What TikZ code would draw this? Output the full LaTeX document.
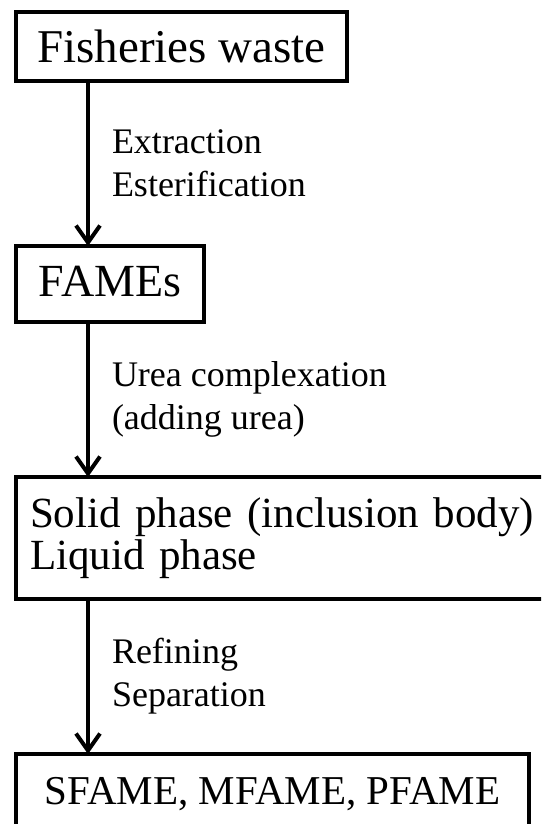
\documentclass[tikz,border=0pt]{standalone}
\usepackage{fontspec}
\setmainfont{Liberation Serif}
\usetikzlibrary{arrows.meta}
\tikzset{>={Straight Barb[length=17pt,width=24pt]}}
\tikzset{
  stage/.style={draw, line width=4pt, inner sep=0pt, outer sep=0pt, anchor=north west},
  step note/.style={font=\fontsize{36}{43}\selectfont, align=left, anchor=west,
                    inner sep=0pt, xshift=22pt},
  flow/.style={line width=4pt, ->}
}

\begin{document}
\begin{tikzpicture}[x=1pt,y=-1pt]
  \useasboundingbox (0,0) rectangle (541,824);
  \clip (0,0) rectangle (541,824);
  \coordinate (spine) at (88,0);
  % stages
  \node[stage, minimum width=331pt, minimum height=69pt,
        font=\fontsize{47}{56}\selectfont] (waste) at (16,12) {Fisheries waste};
  \node[stage, minimum width=188pt, minimum height=76pt, text depth=6pt,
        font=\fontsize{46}{55}\selectfont] (fames) at (16,246) {FAMEs};
  \node[stage, minimum width=560pt, minimum height=122pt, text width=532pt,
        align=left, font=\fontsize{43}{42}\selectfont] (phases) at (16,477)
        {Solid phase (inclusion body)\\Liquid phase};
  \node[stage, minimum width=513pt, minimum height=80pt,
        font=\fontsize{41}{49}\selectfont] (products) at (16,754) {SFAME, MFAME, PFAME};
  % steps
  \draw[flow] (spine |- waste.south) -- (spine |- fames.north)
    node[midway, step note] {Extraction\\Esterification};
  \draw[flow] (spine |- fames.south) -- (spine |- phases.north)
    node[midway, step note] {Urea complexation\\(adding urea)};
  \draw[flow] (spine |- phases.south) -- (spine |- products.north)
    node[midway, step note] {Refining\\Separation};
\end{tikzpicture}
\end{document}
